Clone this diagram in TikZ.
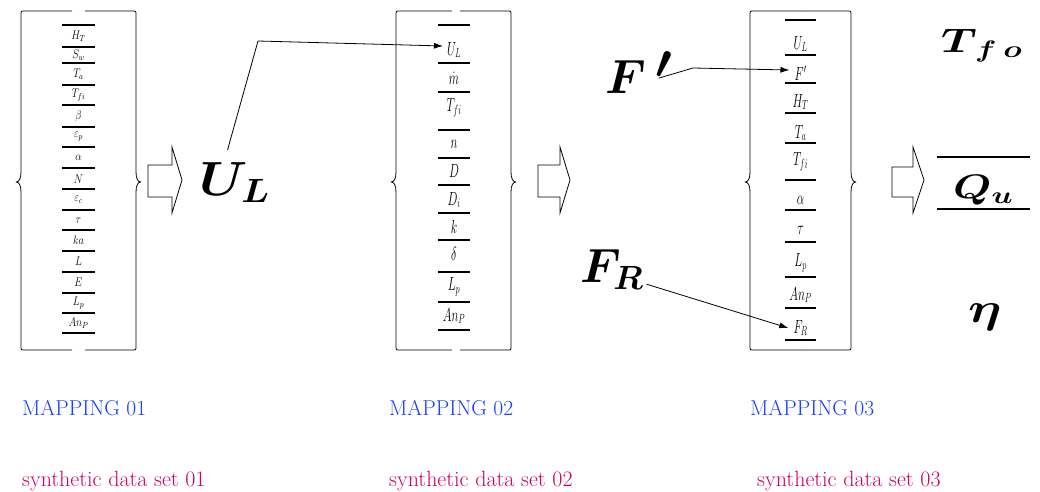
\RequirePackage{fix-cm}
\documentclass[tikz,border=0pt]{standalone}
\usepackage{bm}
\usepackage{graphicx}
\usetikzlibrary{arrows.meta}
\definecolor{mapblue}{RGB}{25,60,255}
\definecolor{setmag}{RGB}{205,0,105}
\newcommand{\brbox}[4]{%
\draw[bracket] (#3,11) -- (#1+4,11) .. controls (#1,11) .. (#1,15) -- (#1,172) .. controls (#1,179) and (#1-2,182) .. (#1-5,182) .. controls (#1-2,182) and (#1,185) .. (#1,192) -- (#1,346) .. controls (#1,350) .. (#1+4,350) -- (#3,350);
\draw[bracket] (#4,11) -- (#2-4,11) .. controls (#2,11) .. (#2,15) -- (#2,172) .. controls (#2,179) and (#2+2,182) .. (#2+5,182) .. controls (#2+2,182) and (#2,185) .. (#2,192) -- (#2,346) .. controls (#2,350) .. (#2-4,350) -- (#4,350);
}
\newcommand{\nA}[1]{\scalebox{0.82}[1]{$#1$}}
\newcommand{\nB}[1]{\scalebox{0.62}[1]{$#1$}}
\begin{document}
\begin{tikzpicture}[x=1pt,y=-1pt,
  bracket/.style={line width=0.8pt,line join=round},
  itemline/.style={line width=1.8pt},
  blockarrow/.style={draw,line width=0.8pt,fill=white,line join=miter},
  lblA/.style={inner sep=0pt,font=\fontsize{12.5}{14}\selectfont},
  lblB/.style={inner sep=0pt,font=\fontsize{19}{21}\selectfont},
  bigsym/.style={inner sep=0pt,anchor=base west,font=\fontsize{48}{52}\selectfont},
  midsym/.style={inner sep=0pt,anchor=base west,font=\fontsize{34}{36}\selectfont},
  conn/.style={line width=0.8pt,-{Latex[length=9pt,width=6pt]}},
  captxt/.style={inner sep=0pt,anchor=base west,font=\fontsize{21.5}{24}\selectfont},
  settxt/.style={inner sep=0pt,anchor=base west,font=\fontsize{22}{24}\selectfont}]
\useasboundingbox (0,0) rectangle (1040,491);

% brackets
\brbox{21}{136}{72}{85}
\brbox{396}{511}{452}{460}
\brbox{750}{851}{800}{800}

% box 1
\foreach \y in {25,46.7,63.3,85,105,126.7,146.7,168.3,189.3,210,230,250.7,271.7,293.3,313.3,333.3}
  \draw[itemline] (62,\y) -- (95,\y);
\node[lblA] (a1) at (78.5,36.5) {\nA{H_T}};
\node[lblA] (a2) at (78.5,55.5) {\nA{S_w}};
\node[lblA] (a3) at (78.5,74.5) {\nA{T_a}};
\node[lblA] (a4) at (78.5,95) {\nA{T_{fi}}};
\node[lblA] (a5) at (78.5,116) {\nA{\beta}};
\node[lblA] (a6) at (78.5,137) {\nA{\varepsilon_p}};
\node[lblA] (a7) at (78.5,157.5) {\nA{\alpha}};
\node[lblA] (a8) at (78.5,179) {\nA{N}};
\node[lblA] (a9) at (78.5,200) {\nA{\varepsilon_c}};
\node[lblA] (a10) at (78.5,220.5) {\nA{\tau}};
\node[lblA] (a11) at (78.5,240.5) {\nA{ka}};
\node[lblA] (a12) at (78.5,261.5) {\nA{L}};
\node[lblA] (a13) at (78.5,282.5) {\nA{E}};
\node[lblA] (a14) at (78.5,303.5) {\nA{L_p}};
\node[lblA] (a15) at (78.5,323.5) {\nA{An_P}};

% box 2
\foreach \y in {25,63,92,130,158,185,213,240,272,302,330}
  \draw[itemline] (438,\y) -- (470,\y);
\node[lblB] (b1) at (454,50) {\nB{U_L}};
\node[lblB] (b2) at (454,78) {\nB{\dot m}};
\node[lblB] (b3) at (454,108) {\nB{T_{fi}}};
\node[lblB] (b4) at (454,144) {\nB{n}};
\node[lblB] (b5) at (454,171) {\nB{D}};
\node[lblB] (b6) at (454,200) {\nB{D_i}};
\node[lblB] (b7) at (454,227) {\nB{k}};
\node[lblB] (b8) at (454,254) {\nB{\delta}};
\node[lblB] (b9) at (454,287) {\nB{L_p}};
\node[lblB] (b10) at (454,316) {\nB{An_P}};

% box 3
\foreach \y in {20,55,83.3,113.3,143.3,180,210,241.7,276.7,308.3,340}
  \draw[itemline] (785,\y) -- (816,\y);
\node[lblB] (c1) at (800.5,44) {\nB{U_L}};
\node[lblB] (c2) at (800.5,73) {\nB{F'}};
\node[lblB] (c3) at (800.5,102) {\nB{H_T}};
\node[lblB] (c4) at (800.5,133) {\nB{T_a}};
\node[lblB] (c5) at (800.5,162) {\nB{T_{fi}}};
\node[lblB] (c6) at (800.5,200) {\nB{\alpha}};
\node[lblB] (c7) at (800.5,230) {\nB{\tau}};
\node[lblB] (c8) at (800.5,263) {\nB{L_p}};
\node[lblB] (c9) at (800.5,295) {\nB{An_P}};
\node[lblB] (c10) at (800.5,328) {\nB{F_R}};

% block arrows
\draw[blockarrow] (148,165) -- (172,165) -- (172,147) -- (182,180) -- (172,213) -- (172,197) -- (148,197) -- cycle;
\draw[blockarrow] (538,165) -- (560,165) -- (560,147) -- (570,180) -- (560,213) -- (560,197) -- (538,197) -- cycle;
\draw[blockarrow] (892,167) -- (913,167) -- (913,147) -- (924,180) -- (913,213) -- (913,197) -- (892,197) -- cycle;

% big symbols
\node[bigsym] (UL) at (199,195) {\scalebox{1.1}[1]{$\bm{U_L}$}};
\node[bigsym] (Fp) at (605,93) {$\bm{F}$\hspace{10pt}\raisebox{15pt}{$\bm{\prime}$}};
\node[bigsym] (FR) at (580,282) {$\bm{F_R}$};
\node[midsym] (Tfo) at (941,52) {\scalebox{1.32}[1]{$\bm{T}_{\mkern3mu\bm{f}\mkern4mu\bm{o}}$}};
\node[midsym] (Qu) at (953,198) {\scalebox{1.3}[1]{$\bm{Q}_{\bm{u}}$}};
\node[bigsym,font=\fontsize{42}{46}\selectfont] (eta) at (968,322) {\scalebox{1.25}[1]{$\bm{\eta}$}};
\draw[line width=2.5pt] (937,157) -- (1030,157);
\draw[line width=2.5pt] (937,209) -- (1030,209);

% connectors
\coordinate (k1) at (258,41);
\coordinate (k2) at (693,68);
\draw[conn] ([xshift=-7pt,yshift=12pt]UL.north) -- (k1) -- ([xshift=-4pt,yshift=4pt]b1.west);
\draw[conn] ([xshift=-14pt,yshift=-6pt]Fp.east) -- (k2) -- ([xshift=-5pt,yshift=3pt]c2.west);
\draw[conn] ([xshift=3pt,yshift=-15pt]FR.east) -- ([xshift=-5pt]c10.west);

% captions
\node[captxt,text=mapblue] (m1) at (22,415) {MAPPING 01};
\node[captxt,text=mapblue] (m2) at (389,415) {MAPPING 02};
\node[captxt,text=mapblue] (m3) at (750,415) {MAPPING 03};
\node[settxt,text=setmag] (s1) at (22,486) {synthetic data set 01};
\node[settxt,text=setmag] (s2) at (389,486) {synthetic data set 02};
\node[settxt,text=setmag] (s3) at (757,486) {synthetic data set 03};
\end{tikzpicture}
\end{document}
